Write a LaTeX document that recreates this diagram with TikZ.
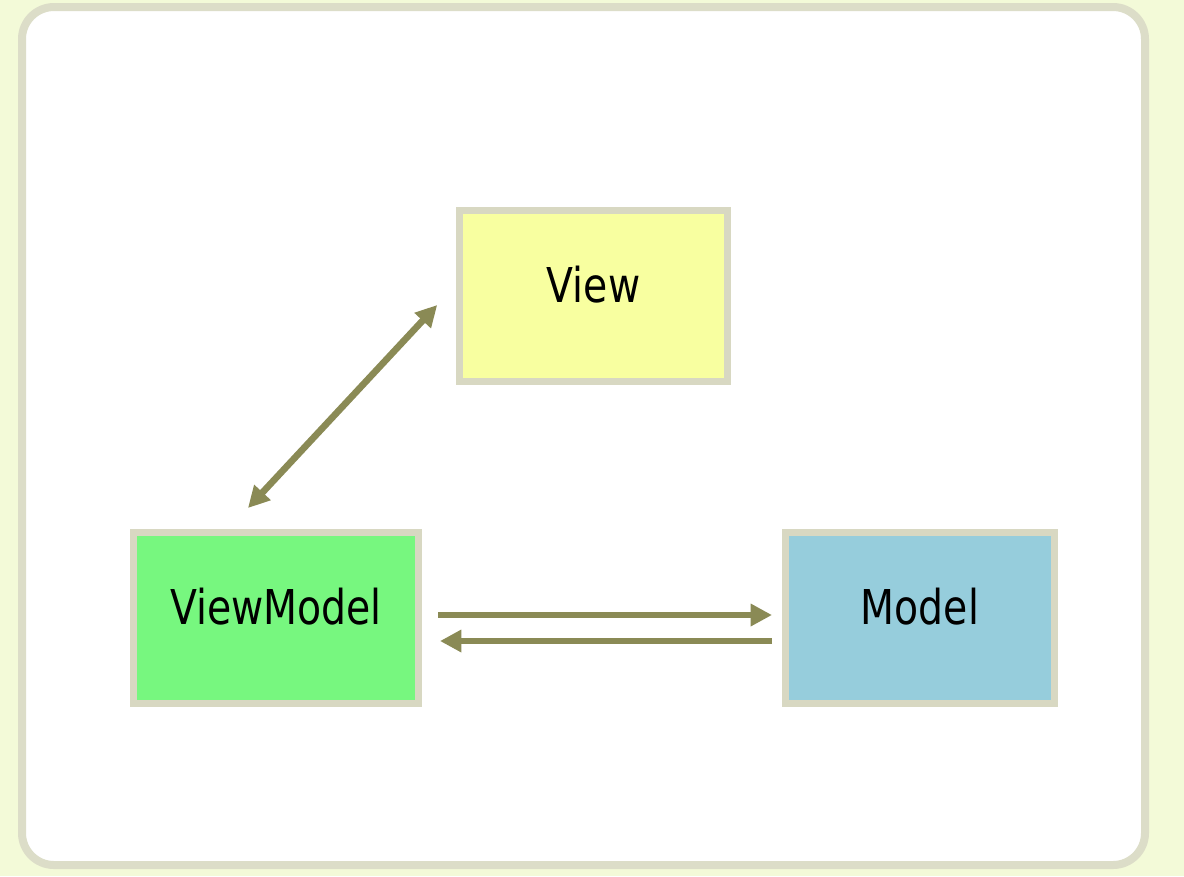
\documentclass[tikz,border=0pt]{standalone}
\usepackage{fontspec}
\newfontfamily\boxfont[FakeStretch=0.82]{DejaVu Sans}
\usetikzlibrary{arrows.meta, positioning, calc}

\definecolor{pagebg}{RGB}{243,250,216}
\definecolor{panelline}{RGB}{220,221,200}
\definecolor{boxline}{RGB}{216,216,194}
\definecolor{viewfill}{RGB}{248,255,160}
\definecolor{vmfill}{RGB}{119,247,127}
\definecolor{modelfill}{RGB}{150,205,220}
\definecolor{linkcol}{RGB}{138,138,85}

\begin{document}
\begin{tikzpicture}[x=0.75pt, y=-0.75pt,
    part/.style={draw=boxline, line width=5.25pt, minimum width=262pt-5.25pt,
        minimum height=133.5pt-5.25pt, inner sep=0pt, text height=26pt, text depth=16.5pt,
        font=\boxfont\fontsize{36}{40}\selectfont},
    link/.style={draw=linkcol, line width=5pt, -{Triangle[length=16pt,width=16pt]}},
    both/.style={link, {Triangle[length=16pt,width=16pt]}-{Triangle[length=16pt,width=16pt]}}]
    \useasboundingbox (0,0) rectangle (1184,876);
    \fill[pagebg] (0,0) rectangle (1184,876);
    \draw[panelline, fill=white, line width=6pt, rounded corners=24pt] (22,7) rectangle (1145,865);

    \node[part, fill=viewfill, minimum width=206pt-5.25pt] (view) at (593.5,296) {View};
    \node[part, fill=vmfill, minimum width=219pt-5.25pt] (vm) at (276,618) {ViewModel};
    \node[part, fill=modelfill, minimum width=207pt-5.25pt] (model) at (920,618) {Model};

    \coordinate (vmtop) at ($(vm.north)+(-28,-21)$);
    \coordinate (viewleft) at ($(view.west)+(-19,9)$);
    \draw[both] (vmtop) -- (viewleft);
    \draw[link] ($(vm.east)+(16,-3)$) -- ($(model.west)+(-10,-3)$);
    \draw[link] ($(model.west)+(-10,23)$) -- ($(vm.east)+(18,23)$);
\end{tikzpicture}
\end{document}
